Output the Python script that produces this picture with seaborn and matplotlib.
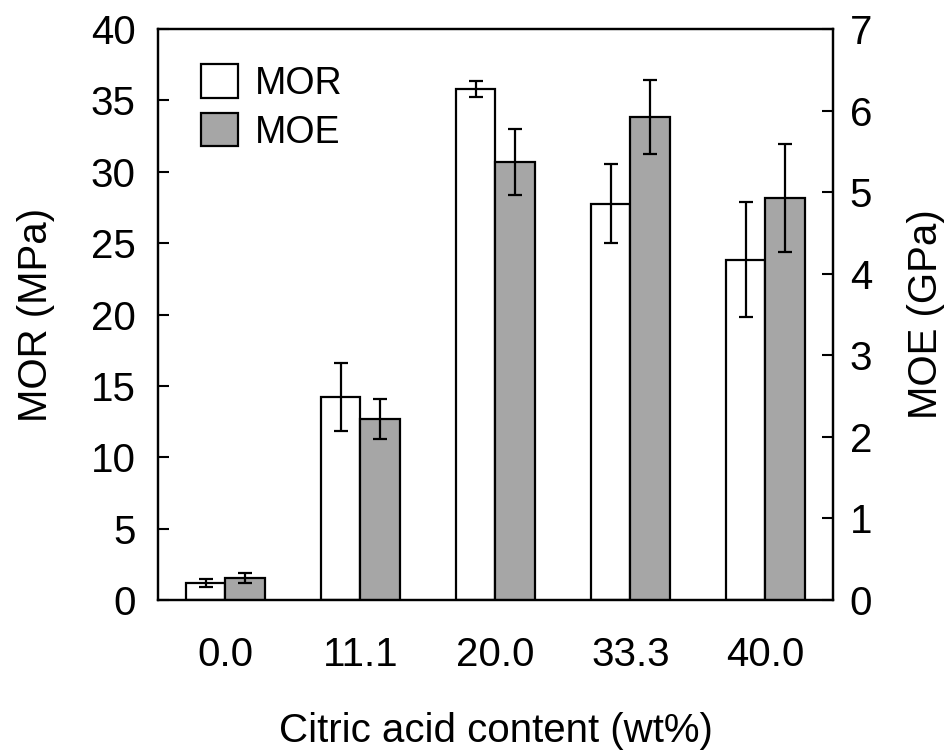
import numpy as np
import pandas as pd
import matplotlib
matplotlib.use("Agg")
import matplotlib.pyplot as plt
import seaborn as sns
from matplotlib.patches import Patch

# ---- data ----
contents = ["0.0", "11.1", "20.0", "33.3", "40.0"]
mor = [1.2, 14.2, 35.8, 27.75, 23.85]
mor_err = [0.27, 2.37, 0.56, 2.77, 4.0]
moe = [0.27, 2.22, 5.37, 5.92, 4.93]
moe_err = [0.06, 0.25, 0.40, 0.45, 0.66]
series = ["MOR", "MOE"]
colors = {"MOR": "#FFFFFF", "MOE": "#A6A6A6"}

sns.set_theme(style="white")
plt.rcParams["font.family"] = ["Liberation Sans", "DejaVu Sans"]
plt.rcParams["font.size"] = 29
for k in ["text.color", "axes.labelcolor", "xtick.color", "ytick.color"]:
    plt.rcParams[k] = "black"

df_mor = pd.DataFrame({"content": contents, "value": mor, "series": "MOR"})
df_moe = pd.DataFrame({"content": contents, "value": moe, "series": "MOE"})

fig = plt.figure(figsize=(9.53, 7.53), dpi=100)
ax = fig.add_axes([158 / 953, 1 - 600 / 753, (833 - 158) / 953, (600 - 29) / 753])
ax2 = ax.twinx()

sns.barplot(data=df_mor, x="content", y="value", hue="series", hue_order=series,
            order=contents, palette=colors, width=0.58, edgecolor="black", dodge=True,
            linewidth=1.6, errorbar=None, legend=False, ax=ax, saturation=1)
sns.barplot(data=df_moe, x="content", y="value", hue="series", hue_order=series,
            order=contents, palette=colors, width=0.58, edgecolor="black", dodge=True,
            linewidth=1.6, errorbar=None, legend=False, ax=ax2, saturation=1)

def add_err(a, vals, errs):
    bars = [p for p in a.patches if p.get_height() > 0]
    bars = sorted(bars, key=lambda p: p.get_x())
    xs = [p.get_x() + p.get_width() / 2 for p in bars]
    a.errorbar(xs, vals, yerr=errs, fmt="none", ecolor="black",
               elinewidth=1.6, capsize=5, capthick=1.6, zorder=5)

add_err(ax, mor, mor_err)
add_err(ax2, moe, moe_err)

ax.set_xlim(-0.5, 4.5)
ax.set_ylim(0, 40)
ax2.set_ylim(0, 7)
ax.set_yticks(np.arange(0, 41, 5))
ax2.set_yticks(np.arange(0, 8, 1))

ax.set_xlabel("Citric acid content (wt%)", fontsize=29, labelpad=27)
ax.set_ylabel("MOR (MPa)", fontsize=29, labelpad=26)
ax2.set_ylabel("MOE (GPa)", fontsize=29, labelpad=25)

ax.tick_params(axis="x", which="major", length=0, pad=26, labelsize=29)
ax.set_xticks([0.5, 1.5, 2.5, 3.5], minor=True)
ax.tick_params(axis="x", which="minor", direction="in", length=8, width=1.5, color="black")
ax.tick_params(axis="y", direction="in", length=8, width=1.5, pad=16, labelsize=29, color="black")
ax2.tick_params(axis="y", direction="in", length=8, width=1.5, pad=12, labelsize=29, color="black")

for a in (ax, ax2):
    for s in a.spines.values():
        s.set_visible(True)
        s.set_color("black")
        s.set_linewidth(1.6)

handles = [Patch(facecolor=colors[s], edgecolor="black", linewidth=1.6, label=s) for s in series]
ax2.legend(handles=handles, loc="upper left", bbox_to_anchor=(0.03, 0.978), frameon=False,
           fontsize=27, handlelength=1.0, handleheight=1.0, handletextpad=0.45,
           labelspacing=0.3, borderaxespad=0.2)

fig.savefig("out.png", dpi=100)
